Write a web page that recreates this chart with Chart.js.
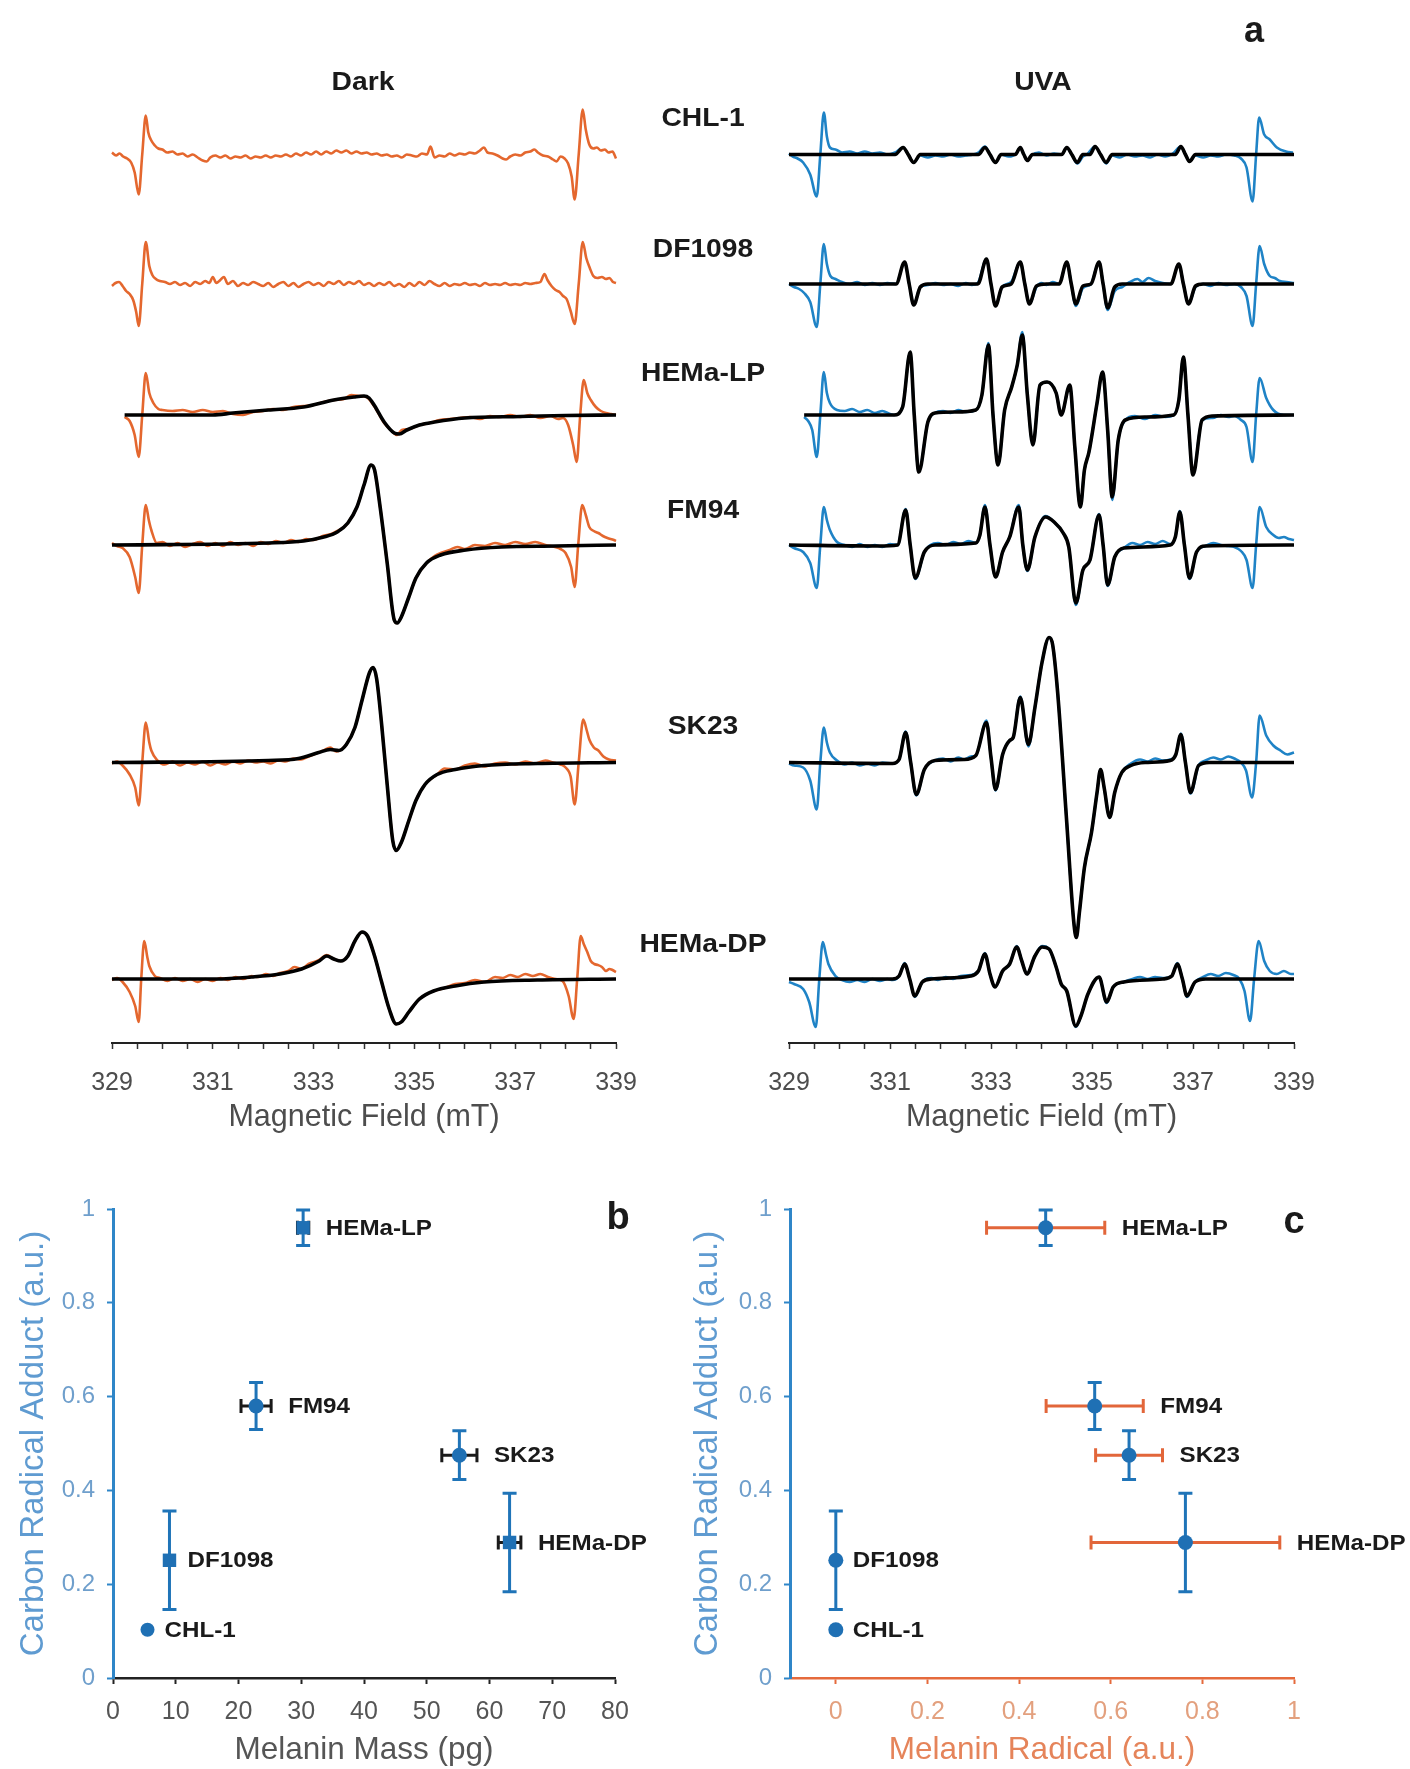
<!DOCTYPE html>
<html>
<head>
<meta charset="utf-8">
<script src="https://cdn.jsdelivr.net/npm/chart.js@4.4.1/dist/chart.umd.min.js"></script>
<style>
  body { margin: 0; background: #fff; width: 1410px; height: 1769px; position: relative; overflow: hidden;
         font-family: 'Liberation Sans', Arial, sans-serif; }
  canvas { position: absolute; }
  .txt { position: absolute; font-weight: bold; color: #1a1a1a; white-space: nowrap; z-index: 5;
         transform: translate(-50%, -50%) scaleX(1.13); }
</style>
</head>
<body>
<canvas id="dark" width="700" height="1150" style="left:0;top:0"></canvas>
<canvas id="uva" width="710" height="1150" style="left:700px;top:0"></canvas>
<canvas id="mass" width="700" height="619" style="left:0;top:1150px"></canvas>
<canvas id="radical" width="770" height="619" style="left:640px;top:1150px"></canvas>
<div id="labels"></div>
<script>
// ---- data -------------------------------------------------------------
const cellLines = ['CHL-1', 'DF1098', 'HEMa-LP', 'FM94', 'SK23', 'HEMa-DP'];

// panel a: field ticks (mT)
const fieldTicks = [329, 329.5, 330, 330.5, 331, 331.5, 332, 332.5, 333, 333.5, 334, 334.5,
                    335, 335.5, 336, 336.5, 337, 337.5, 338, 338.5, 339];
const fieldLabels = [329, 331, 333, 335, 337, 339];

// spectra, [field mT, signal a.u.]
const darkChl1 = [[329.0,2],[329.08,-1],[329.15,1],[329.22,-2],[329.3,-4],[329.38,-8],[329.45,-18],[329.53,-40],[329.6,0],[329.67,39],[329.72,22],[329.78,14],[329.85,9],[329.92,6],[330.0,5],[330.1,2],[330.2,3],[330.3,0],[330.4,1],[330.5,-2],[330.6,0],[330.7,-3],[330.8,-6],[330.88,-7],[330.95,-3],[331.05,-1],[331.15,-3],[331.25,-1],[331.35,-4],[331.45,-2],[331.55,-3],[331.65,-1],[331.75,-4],[331.85,-2],[331.95,-3],[332.05,-1],[332.15,-3],[332.25,-1],[332.35,-2],[332.45,0],[332.55,-2],[332.65,1],[332.75,-1],[332.85,2],[332.95,0],[333.05,3],[333.15,0],[333.25,3],[333.35,1],[333.45,4],[333.55,2],[333.65,4],[333.75,1],[333.85,3],[333.95,1],[334.05,2],[334.15,0],[334.25,1],[334.35,-1],[334.45,0],[334.55,-2],[334.65,-1],[334.75,-3],[334.85,0],[334.95,-1],[335.05,-2],[335.15,1],[335.25,0],[335.32,8],[335.4,-3],[335.5,-1],[335.6,-2],[335.7,1],[335.8,-1],[335.9,1],[336.0,0],[336.1,2],[336.2,1],[336.3,4],[336.38,7],[336.45,2],[336.55,1],[336.65,-1],[336.75,-4],[336.82,-5],[336.9,-2],[337.0,0],[337.1,-1],[337.2,2],[337.3,3],[337.38,5],[337.45,2],[337.55,-1],[337.65,-2],[337.75,-5],[337.82,-7],[337.9,-2],[337.98,-4],[338.05,-9],[338.12,-22],[338.18,-45],[338.26,0],[338.34,45],[338.4,25],[338.47,10],[338.55,6],[338.62,7],[338.7,4],[338.78,5],[338.85,2],[338.93,3],[339.0,-4]];
const darkDf1098 = [[329.0,-2],[329.07,1],[329.14,2],[329.21,-2],[329.28,-7],[329.35,-10],[329.42,-16],[329.48,-28],[329.53,-42],[329.6,0],[329.67,42],[329.74,18],[329.8,9],[329.87,5],[329.95,3],[330.05,2],[330.15,0],[330.25,2],[330.35,-1],[330.45,1],[330.55,-2],[330.65,2],[330.75,0],[330.85,3],[330.93,1],[331.0,7],[331.07,1],[331.15,4],[331.22,7],[331.3,0],[331.4,3],[331.5,-2],[331.6,1],[331.7,-1],[331.8,2],[331.9,0],[332.0,-2],[332.1,1],[332.2,-3],[332.3,0],[332.4,2],[332.5,-2],[332.6,1],[332.7,-3],[332.8,0],[332.9,2],[333.0,-1],[333.1,1],[333.2,-2],[333.3,2],[333.4,0],[333.5,3],[333.6,-1],[333.7,2],[333.8,0],[333.9,3],[334.0,-1],[334.1,1],[334.2,-2],[334.3,1],[334.4,-1],[334.5,2],[334.6,-2],[334.7,0],[334.8,-3],[334.9,1],[335.0,-2],[335.1,2],[335.2,-1],[335.3,3],[335.4,0],[335.5,-2],[335.6,1],[335.7,-2],[335.8,0],[335.9,-1],[336.0,1],[336.1,-1],[336.2,0],[336.3,-2],[336.4,1],[336.5,-1],[336.6,0],[336.7,-1],[336.8,1],[336.9,-1],[337.0,0],[337.1,-1],[337.2,1],[337.3,0],[337.4,1],[337.5,2],[337.58,10],[337.64,4],[337.72,-2],[337.8,-6],[337.88,-8],[337.95,-12],[338.02,-15],[338.1,-27],[338.18,-40],[338.26,0],[338.34,42],[338.41,26],[338.48,16],[338.55,8],[338.63,6],[338.72,7],[338.8,5],[338.87,6],[338.94,2],[339.0,1]];
const darkHemaLp = [[329.25,-2],[329.35,-6],[329.45,-20],[329.53,-42],[329.6,0],[329.67,42],[329.74,22],[329.82,12],[329.92,6],[330.0,5],[330.2,4],[330.4,5],[330.6,3],[330.8,5],[331.0,3],[331.2,4],[331.4,1],[331.6,0],[331.8,3],[332.0,4],[332.2,6],[332.4,5],[332.6,8],[332.8,9],[333.0,10],[333.2,13],[333.4,15],[333.6,16],[333.75,20],[333.9,19],[334.05,18],[334.2,9],[334.4,-8],[334.55,-16],[334.65,-20],[334.75,-15],[334.9,-14],[335.1,-10],[335.3,-8],[335.5,-5],[335.7,-4],[335.9,-3],[336.1,-2],[336.3,-4],[336.5,-1],[336.7,-2],[336.9,0],[337.1,-2],[337.3,0],[337.5,-3],[337.7,-1],[337.85,-4],[337.95,-3],[338.05,-10],[338.15,-30],[338.22,-47],[338.29,0],[338.36,35],[338.43,22],[338.5,15],[338.6,8],[338.7,4],[338.8,2],[338.9,1],[339.0,0]];
const darkHemaLpFit = [[329.25,0],[331.0,0],[331.4,2],[332.1,5],[332.8,8],[333.4,15],[333.8,18],[334.0,19],[334.1,17],[334.2,10],[334.4,-7],[334.6,-18],[334.7,-19],[334.85,-15],[335.1,-10],[335.4,-7],[336.0,-3],[337.1,-1.5],[338.0,-0.5],[339.0,0]];
const darkFm94 = [[329.0,2],[329.1,-1],[329.21,-3],[329.35,-12],[329.46,-32],[329.53,-48],[329.6,0],[329.67,40],[329.73,25],[329.78,15],[329.89,2],[330.0,3],[330.15,-1],[330.3,2],[330.45,-2],[330.6,1],[330.75,3],[330.9,-1],[331.05,2],[331.2,-1],[331.35,3],[331.5,0],[331.65,2],[331.8,-1],[331.95,3],[332.1,1],[332.25,4],[332.4,2],[332.55,5],[332.7,3],[332.85,6],[333.0,5],[333.18,9],[333.35,11],[333.47,14],[333.6,18],[333.68,22],[333.86,38],[334.0,60],[334.14,80],[334.21,75],[334.32,38],[334.46,-18],[334.6,-75],[334.66,-78],[334.74,-72],[334.89,-52],[335.03,-33],[335.24,-18],[335.4,-11],[335.52,-8],[335.7,-5],[335.85,-2],[336.0,-4],[336.2,0],[336.4,-1],[336.6,2],[336.8,0],[337.0,3],[337.2,1],[337.4,3],[337.6,0],[337.79,-2],[337.9,-4],[338.0,-8],[338.11,-22],[338.18,-42],[338.25,0],[338.33,40],[338.4,30],[338.47,18],[338.56,14],[338.65,12],[338.74,9],[338.83,7],[338.96,5],[339.0,4]];
const darkFm94Fit = [[329.0,0],[332.1,2],[332.8,4],[333.2,8],[333.47,13],[333.68,22],[333.86,38],[334.0,60],[334.14,80],[334.21,75],[334.32,38],[334.46,-18],[334.6,-75],[334.66,-78],[334.74,-72],[334.89,-52],[335.03,-33],[335.24,-18],[335.52,-10],[336.02,-5],[336.73,-2],[337.8,-1],[339.0,0]];
const darkSk23 = [[329.0,-1],[329.1,1],[329.21,-3],[329.35,-12],[329.46,-25],[329.53,-43],[329.6,0],[329.67,40],[329.74,20],[329.78,12],[329.9,2],[330.05,-2],[330.2,1],[330.35,-3],[330.5,0],[330.65,-2],[330.8,1],[330.95,-3],[331.1,0],[331.25,-2],[331.4,1],[331.55,-1],[331.7,2],[331.85,0],[332.0,1],[332.15,-1],[332.3,2],[332.45,1],[332.6,4],[332.75,3],[332.9,6],[333.05,9],[333.2,12],[333.33,15],[333.45,11],[333.55,13],[333.65,18],[333.82,35],[333.96,62],[334.11,90],[334.18,95],[334.25,84],[334.35,38],[334.46,-22],[334.57,-78],[334.64,-88],[334.74,-80],[334.89,-58],[335.03,-38],[335.21,-22],[335.45,-12],[335.6,-6],[335.81,-7],[336.0,-3],[336.2,-1],[336.4,-4],[336.6,-1],[336.8,0],[337.0,-2],[337.2,1],[337.4,-1],[337.6,2],[337.75,0],[337.9,-2],[338.0,-5],[338.1,-14],[338.18,-42],[338.26,0],[338.35,43],[338.42,32],[338.47,23],[338.56,15],[338.65,12],[338.75,6],[338.86,3],[339.0,2]];
const darkSk23Fit = [[329.0,0],[332.1,2],[332.7,4],[333.1,10],[333.33,13],[333.5,12],[333.65,18],[333.82,35],[333.96,62],[334.11,90],[334.18,95],[334.25,84],[334.35,38],[334.46,-22],[334.57,-78],[334.64,-88],[334.74,-80],[334.89,-58],[335.03,-38],[335.21,-22],[335.45,-12],[335.81,-7],[336.38,-3],[337.44,-1],[339.0,0]];
const darkHemaDp = [[329.0,-1],[329.1,1],[329.21,-3],[329.35,-13],[329.46,-27],[329.53,-43],[329.58,0],[329.64,38],[329.7,22],[329.74,13],[329.85,3],[329.95,1],[330.1,-2],[330.25,1],[330.4,-2],[330.55,0],[330.7,-3],[330.85,0],[331.0,-2],[331.15,1],[331.3,-1],[331.45,2],[331.6,0],[331.77,3],[331.9,2],[332.05,5],[332.2,3],[332.33,6],[332.5,8],[332.62,12],[332.76,10],[332.9,15],[333.11,19],[333.26,24],[333.4,20],[333.54,18],[333.68,23],[333.82,38],[333.96,47],[334.07,43],[334.21,23],[334.35,-3],[334.5,-30],[334.64,-45],[334.74,-43],[334.89,-33],[335.1,-20],[335.38,-12],[335.6,-9],[335.81,-5],[336.0,-4],[336.2,-1],[336.4,-3],[336.6,2],[336.75,1],[336.9,4],[337.05,2],[337.2,5],[337.35,3],[337.5,5],[337.65,2],[337.8,0],[337.94,-2],[338.06,-17],[338.16,-40],[338.23,0],[338.3,43],[338.36,35],[338.43,27],[338.5,18],[338.57,15],[338.64,14],[338.72,12],[338.8,8],[338.87,10],[338.93,9],[339.0,7]];
const darkHemaDpFit = [[329.0,0],[331.06,0],[331.77,2],[332.33,5],[332.76,10],[333.11,18],[333.26,23],[333.4,20],[333.54,18],[333.68,23],[333.82,38],[333.96,47],[334.07,43],[334.21,23],[334.35,-3],[334.5,-30],[334.64,-45],[334.74,-43],[334.89,-33],[335.1,-20],[335.38,-12],[335.81,-7],[336.38,-3],[337.44,-1],[339.0,0]];

const uvaChl1 = [[329.0,1],[329.07,-2],[329.17,-4],[329.28,-8],[329.42,-20],[329.55,-42],[329.62,0],[329.69,42],[329.75,18],[329.81,7],[329.92,5],[330.05,2],[330.2,3],[330.35,1],[330.5,3],[330.65,1],[330.8,2],[330.95,0],[331.1,2],[331.26,7],[331.36,0],[331.47,-8],[331.6,-1],[331.75,-3],[331.9,-1],[332.05,-2],[332.2,0],[332.35,-2],[332.5,-1],[332.65,0],[332.75,2],[332.88,8],[332.98,0],[333.09,-8],[333.2,0],[333.35,-2],[333.5,1],[333.58,7],[333.65,0],[333.72,-6],[333.8,-1],[333.95,2],[334.1,-1],[334.25,1],[334.4,0],[334.5,7],[334.6,0],[334.71,-9],[334.82,-2],[334.9,0],[335.06,8],[335.17,0],[335.28,-9],[335.4,-1],[335.55,-3],[335.7,0],[335.85,-2],[336.0,-1],[336.15,-3],[336.3,0],[336.45,-2],[336.6,1],[336.76,8],[336.85,0],[336.93,-7],[337.05,-1],[337.2,-3],[337.35,-1],[337.5,-2],[337.65,0],[337.82,-1],[337.95,-4],[338.06,-13],[338.18,-47],[338.25,0],[338.31,37],[338.41,20],[338.52,15],[338.66,7],[338.84,3],[338.98,2]];
const uvaChl1Fit = [[329.0,0],[331.1,0],[331.26,7],[331.36,0],[331.47,-8],[331.6,0],[332.75,0],[332.88,7],[332.98,0],[333.09,-8],[333.2,0],[333.48,0],[333.58,7],[333.65,0],[333.72,-6],[333.82,0],[334.4,0],[334.5,7],[334.6,0],[334.71,-8],[334.82,0],[334.96,0],[335.06,8],[335.17,0],[335.28,-8],[335.4,0],[336.65,0],[336.76,8],[336.85,0],[336.93,-7],[337.05,0],[339.0,0]];
const uvaDf1098 = [[329.0,0],[329.1,-3],[329.2,-5],[329.3,-9],[329.42,-18],[329.55,-43],[329.62,0],[329.69,40],[329.75,20],[329.82,8],[329.92,5],[330.05,2],[330.2,0],[330.35,2],[330.5,-1],[330.65,1],[330.8,-1],[330.95,1],[331.12,0],[331.29,22],[331.38,0],[331.47,-21],[331.6,-3],[331.75,-1],[331.9,1],[332.05,-1],[332.2,0],[332.35,-2],[332.5,1],[332.62,-1],[332.74,1],[332.91,25],[333.0,0],[333.09,-22],[333.22,-3],[333.4,2],[333.58,22],[333.67,0],[333.76,-20],[333.9,-3],[334.0,1],[334.1,-1],[334.22,2],[334.35,0],[334.5,22],[334.59,0],[334.68,-22],[334.82,-4],[334.98,0],[335.14,22],[335.22,0],[335.31,-26],[335.45,-7],[335.6,-3],[335.75,2],[335.9,5],[336.0,2],[336.12,6],[336.25,3],[336.4,1],[336.56,0],[336.72,20],[336.81,0],[336.91,-20],[337.05,-3],[337.2,0],[337.35,-2],[337.5,1],[337.65,-1],[337.82,0],[337.95,-3],[338.06,-12],[338.18,-42],[338.25,0],[338.32,38],[338.41,20],[338.52,8],[338.62,6],[338.72,3],[338.85,2],[339.0,1]];
const uvaDf1098Fit = [[329.0,0],[331.12,0],[331.29,22],[331.38,0],[331.47,-21],[331.6,-3],[331.75,0],[332.74,0],[332.91,25],[333.0,0],[333.09,-22],[333.22,-3],[333.4,0],[333.58,22],[333.67,0],[333.76,-20],[333.9,-2],[334.1,0],[334.35,0],[334.5,22],[334.59,0],[334.68,-20],[334.82,-2],[334.98,0],[335.14,22],[335.22,0],[335.31,-24],[335.45,-3],[335.6,0],[336.56,0],[336.72,20],[336.81,0],[336.91,-20],[337.05,-2],[337.2,0],[339.0,0]];
const uvaHemaLp = [[329.3,-2],[329.38,-6],[329.46,-15],[329.55,-42],[329.62,0],[329.69,43],[329.75,22],[329.81,12],[329.95,5],[330.1,4],[330.25,6],[330.4,3],[330.55,5],[330.7,2],[330.85,4],[331.0,1],[331.08,0],[331.25,8],[331.4,63],[331.48,0],[331.57,-57],[331.75,-7],[331.89,2],[332.05,4],[332.2,2],[332.35,5],[332.5,3],[332.7,5],[332.82,20],[332.95,72],[333.04,0],[333.14,-50],[333.27,5],[333.41,28],[333.52,50],[333.62,83],[333.72,20],[333.83,-30],[333.97,30],[334.11,33],[334.29,22],[334.39,0],[334.56,30],[334.66,-32],[334.77,-92],[334.85,-55],[334.94,-37],[335.1,12],[335.21,43],[335.31,-15],[335.4,-85],[335.52,-25],[335.66,-5],[335.85,-1],[336.05,-4],[336.25,0],[336.45,-2],[336.62,0],[336.72,15],[336.81,58],[336.9,0],[337.0,-60],[337.18,-5],[337.39,-3],[337.55,0],[337.7,-2],[337.82,-1],[337.95,-5],[338.06,-12],[338.18,-47],[338.25,0],[338.32,37],[338.45,17],[338.59,5],[338.8,0],[339.0,0]];
const uvaHemaLpFit = [[329.3,0],[331.08,0],[331.25,8],[331.4,63],[331.48,0],[331.57,-57],[331.75,-7],[331.89,2],[332.3,3],[332.7,5],[332.82,20],[332.95,70],[333.04,0],[333.14,-50],[333.27,5],[333.41,28],[333.52,50],[333.62,80],[333.72,20],[333.83,-30],[333.97,30],[334.11,33],[334.29,22],[334.39,0],[334.56,30],[334.66,-32],[334.77,-92],[334.85,-55],[334.94,-37],[335.1,12],[335.21,43],[335.31,-15],[335.4,-82],[335.52,-25],[335.66,-5],[336.05,-2],[336.62,0],[336.72,15],[336.81,58],[336.9,0],[337.0,-60],[337.18,-5],[337.39,-1],[339.0,0]];
const uvaFm94 = [[329.0,0],[329.1,-3],[329.28,-7],[329.42,-18],[329.55,-43],[329.62,0],[329.69,38],[329.75,25],[329.81,15],[329.95,3],[330.1,0],[330.25,-2],[330.4,1],[330.55,-2],[330.7,0],[330.85,-2],[331.0,1],[331.15,0],[331.31,36],[331.4,0],[331.5,-34],[331.68,-7],[331.8,0],[331.95,2],[332.1,0],[332.25,3],[332.4,1],[332.55,4],[332.7,2],[332.78,10],[332.88,40],[332.98,0],[333.09,-32],[333.23,-7],[333.37,8],[333.55,40],[333.63,0],[333.72,-26],[333.87,8],[334.08,29],[334.25,23],[334.43,12],[334.54,-2],[334.68,-60],[334.82,-25],[334.96,-15],[335.14,31],[335.22,0],[335.31,-41],[335.45,-12],[335.63,-3],[335.8,2],[335.95,0],[336.1,3],[336.25,1],[336.4,4],[336.55,1],[336.65,8],[336.74,34],[336.83,0],[336.93,-34],[337.07,-7],[337.25,-1],[337.4,2],[337.55,0],[337.7,-1],[337.82,-2],[337.95,-6],[338.06,-15],[338.18,-43],[338.25,0],[338.32,38],[338.45,18],[338.59,10],[338.7,7],[338.8,8],[338.9,6],[339.0,5]];
const uvaFm94Fit = [[329.0,0],[330.76,-1],[331.15,0],[331.31,35],[331.4,0],[331.5,-33],[331.68,-7],[331.89,0],[332.7,2],[332.78,10],[332.88,38],[332.98,0],[333.09,-32],[333.23,-7],[333.37,8],[333.55,38],[333.63,0],[333.72,-25],[333.87,8],[334.08,28],[334.25,23],[334.43,12],[334.54,-2],[334.68,-58],[334.82,-25],[334.96,-15],[335.14,30],[335.22,0],[335.31,-40],[335.45,-12],[335.63,-3],[336.55,0],[336.65,8],[336.74,33],[336.83,0],[336.93,-33],[337.07,-7],[337.25,-1],[339.0,0]];
const uvaSk23 = [[329.0,-1],[329.1,-3],[329.28,-5],[329.42,-18],[329.55,-47],[329.62,0],[329.69,35],[329.75,20],[329.81,10],[329.95,2],[330.1,-2],[330.25,0],[330.4,-3],[330.55,-1],[330.7,-3],[330.85,0],[331.05,-1],[331.18,3],[331.31,31],[331.41,0],[331.52,-33],[331.68,-7],[331.89,2],[332.05,4],[332.2,1],[332.35,5],[332.46,3],[332.6,6],[332.7,7],[332.91,42],[333.0,5],[333.09,-28],[333.23,8],[333.37,22],[333.44,25],[333.58,66],[333.74,16],[333.87,55],[334.01,100],[334.15,125],[334.22,118],[334.32,70],[334.5,-60],[334.64,-160],[334.69,-175],[334.75,-150],[334.85,-105],[334.99,-70],[335.1,-30],[335.17,-7],[335.24,-25],[335.35,-55],[335.45,-30],[335.59,-10],[335.77,-1],[335.95,3],[336.1,1],[336.25,4],[336.4,2],[336.55,3],[336.66,8],[336.76,29],[336.85,0],[336.95,-31],[337.11,-3],[337.25,2],[337.4,5],[337.55,3],[337.7,6],[337.82,4],[337.95,0],[338.05,-8],[338.17,-35],[338.25,0],[338.32,47],[338.45,27],[338.59,17],[338.73,12],[338.87,8],[339.0,10]];
const uvaSk23Fit = [[329.0,0],[331.05,-1],[331.18,3],[331.31,30],[331.41,0],[331.52,-32],[331.68,-7],[331.89,2],[332.46,3],[332.7,7],[332.91,40],[333.0,5],[333.09,-27],[333.23,8],[333.37,22],[333.44,25],[333.58,65],[333.74,18],[333.87,55],[334.01,100],[334.15,125],[334.22,118],[334.32,70],[334.5,-60],[334.64,-160],[334.69,-175],[334.75,-150],[334.85,-105],[334.99,-70],[335.1,-30],[335.17,-7],[335.24,-25],[335.35,-55],[335.45,-30],[335.59,-10],[335.77,-3],[336.05,0],[336.55,2],[336.66,8],[336.76,28],[336.85,0],[336.95,-30],[337.11,-3],[337.32,0],[339.0,0]];
const uvaHemaDp = [[329.0,-3],[329.1,-5],[329.28,-10],[329.4,-23],[329.53,-48],[329.6,0],[329.67,37],[329.73,25],[329.78,15],[329.92,3],[330.05,-1],[330.2,-3],[330.35,-1],[330.5,-3],[330.65,0],[330.8,-2],[330.95,0],[331.05,-1],[331.18,3],[331.29,16],[331.39,0],[331.49,-18],[331.64,-3],[331.82,1],[331.95,-1],[332.1,2],[332.25,0],[332.4,3],[332.6,4],[332.75,8],[332.88,26],[332.98,5],[333.08,-8],[333.23,8],[333.37,15],[333.51,33],[333.61,18],[333.71,5],[333.87,23],[334.01,33],[334.15,30],[334.29,12],[334.39,-5],[334.5,-12],[334.68,-48],[334.78,-37],[334.92,-15],[335.14,2],[335.29,-24],[335.42,-8],[335.63,-3],[335.8,0],[335.95,2],[336.1,0],[336.25,2],[336.4,1],[336.58,3],[336.69,16],[336.79,0],[336.88,-18],[337.04,-3],[337.2,2],[337.35,5],[337.5,3],[337.65,6],[337.8,4],[337.92,0],[338.02,-12],[338.13,-42],[338.21,0],[338.3,38],[338.41,18],[338.52,8],[338.66,5],[338.8,8],[338.94,5],[339.0,5]];
const uvaHemaDpFit = [[329.0,0],[331.05,0],[331.18,3],[331.29,15],[331.39,0],[331.49,-17],[331.64,-3],[331.82,0],[332.6,3],[332.75,8],[332.88,25],[332.98,5],[333.08,-8],[333.23,8],[333.37,15],[333.51,32],[333.61,18],[333.71,5],[333.87,23],[334.01,32],[334.15,30],[334.29,12],[334.39,-5],[334.5,-12],[334.68,-47],[334.78,-37],[334.92,-15],[335.14,2],[335.29,-23],[335.42,-8],[335.63,-3],[336.4,0],[336.58,3],[336.69,15],[336.79,0],[336.88,-17],[337.04,-3],[337.25,0],[339.0,0]];

// panels b and c
const melaninMass       = [5.5, 9.0, 30.3, 22.8, 55.2, 63.2];
const melaninMassErr    = [0, 0, 0.9, 2.4, 2.8, 1.8];
const melaninRadical    = [0, 0, 0.458, 0.565, 0.64, 0.763];
const melaninRadicalErr = [0, 0, 0.129, 0.106, 0.073, 0.206];
const carbonAdduct      = [0.103, 0.251, 0.96, 0.58, 0.475, 0.289];
const carbonAdductErr   = [0, 0.105, 0.038, 0.05, 0.052, 0.105];
const massTicks    = [0, 10, 20, 30, 40, 50, 60, 70, 80];
const radicalTicks = [0, 0.2, 0.4, 0.6, 0.8, 1];
const adductTicks  = [0, 0.2, 0.4, 0.6, 0.8, 1];

// ---- layout / style ---------------------------------------------------
const FONT = "'Liberation Sans', Arial, sans-serif";
Chart.defaults.font.family = FONT;
const ORANGE = '#e4672e', BLUE = '#1f83c6', MARKER = '#1f70b4';
const AXIS_Y = 1043, AREA_TOP = 90;               // panel a plot area (page px)
const rowBaseY = [154.5, 284, 415, 545, 762.5, 979];   // stacked trace baselines

function placeRow(arr, row) {
  const off = AXIS_Y - rowBaseY[row];
  return arr.map(p => ({x: p[0], y: p[1] + off}));
}

function spectrumPanel(id, traces, fits, color, padLeft, padRight) {
  const datasets = [];
  traces.forEach((tr, i) => {
    if (fits[i]) datasets.push({data: placeRow(fits[i], i), borderColor: '#000', borderWidth: 3.6, order: 0});
    datasets.push({data: placeRow(tr, i), borderColor: color, borderWidth: 2.6, order: 1});
  });
  return new Chart(document.getElementById(id), {
    type: 'line',
    data: {datasets},
    options: {
      responsive: false, animation: false, events: [],
      layout: {padding: {left: padLeft, right: padRight, top: AREA_TOP, bottom: 0}},
      elements: {point: {radius: 0}, line: {cubicInterpolationMode: 'monotone', borderJoinStyle: 'round', fill: false}},
      datasets: {line: {clip: false}},
      plugins: {legend: {display: false}, tooltip: {enabled: false}},
      scales: {
        x: {
          type: 'linear', min: 329, max: 339,
          afterBuildTicks: s => { s.ticks = fieldTicks.map(v => ({value: v})); },
          afterFit: s => { s.height = 1150 - AXIS_Y; },
          ticks: {autoSkip: false, maxRotation: 0, padding: 19, color: '#4d4d4d', font: {size: 25},
                  callback: v => fieldLabels.includes(v) ? String(v) : ''},
          grid: {drawOnChartArea: false, tickLength: 6, tickColor: '#333', tickWidth: 1.5},
          border: {color: '#222', width: 2},
          title: {display: true, text: 'Magnetic Field (mT)', color: '#4d4d4d', font: {size: 30.5},
                  padding: {top: 0, bottom: 14}}
        },
        y: {type: 'linear', display: false, min: 0, max: AXIS_Y - AREA_TOP}
      }
    }
  });
}

spectrumPanel('dark',
  [darkChl1, darkDf1098, darkHemaLp, darkFm94, darkSk23, darkHemaDp],
  [null, null, darkHemaLpFit, darkFm94Fit, darkSk23Fit, darkHemaDpFit],
  ORANGE, 112, 700 - 616);
spectrumPanel('uva',
  [uvaChl1, uvaDf1098, uvaHemaLp, uvaFm94, uvaSk23, uvaHemaDp],
  [uvaChl1Fit, uvaDf1098Fit, uvaHemaLpFit, uvaFm94Fit, uvaSk23Fit, uvaHemaDpFit],
  BLUE, 789 - 700, 710 - (1294 - 700));

// error bars and point labels for panels b, c
function overlay(xs, xErr, xErrColor, markerHalf) {
  return {
    id: 'overlay',
    beforeDatasetsDraw(chart) {
      const {ctx, scales: {x, y}} = chart;
      ctx.save();
      ctx.lineCap = 'butt';
      xs.forEach((xv, i) => {
        const px = x.getPixelForValue(xv), py = y.getPixelForValue(carbonAdduct[i]);
        const cap = 7;
        if (xErr[i] > 0) {
          const x1 = x.getPixelForValue(xv - xErr[i]), x2 = x.getPixelForValue(xv + xErr[i]);
          ctx.strokeStyle = xErrColor; ctx.lineWidth = 3;
          ctx.beginPath();
          ctx.moveTo(x1, py); ctx.lineTo(x2, py);
          ctx.moveTo(x1, py - cap); ctx.lineTo(x1, py + cap);
          ctx.moveTo(x2, py - cap); ctx.lineTo(x2, py + cap);
          ctx.stroke();
        }
        if (carbonAdductErr[i] > 0) {
          const y1 = y.getPixelForValue(carbonAdduct[i] + carbonAdductErr[i]);
          const y2 = y.getPixelForValue(carbonAdduct[i] - carbonAdductErr[i]);
          ctx.strokeStyle = '#1f74b8'; ctx.lineWidth = 3;
          ctx.beginPath();
          ctx.moveTo(px, y1); ctx.lineTo(px, y2);
          ctx.moveTo(px - cap, y1); ctx.lineTo(px + cap, y1);
          ctx.moveTo(px - cap, y2); ctx.lineTo(px + cap, y2);
          ctx.stroke();
        }
      });
      ctx.restore();
    },
    afterDatasetsDraw(chart) {
      const {ctx, scales: {x, y}} = chart;
      ctx.save();
      ctx.font = 'bold 22px ' + FONT;
      ctx.fillStyle = '#1a1a1a';
      ctx.textBaseline = 'middle';
      xs.forEach((xv, i) => {
        const px = x.getPixelForValue(xv), py = y.getPixelForValue(carbonAdduct[i]);
        const lx = Math.max(px + markerHalf[i] + 8, x.getPixelForValue(xv + xErr[i]) + 17);
        ctx.save();
        ctx.translate(lx, py + 1);
        ctx.scale(1.1, 1);
        ctx.fillText(cellLines[i], 0, 0);
        ctx.restore();
      });
      ctx.restore();
    }
  };
}

function scatterPanel(id, xs, xErr, cfg) {
  return new Chart(document.getElementById(id), {
    type: 'scatter',
    data: {datasets: [{
      data: xs.map((v, i) => ({x: v, y: carbonAdduct[i]})),
      pointStyle: cfg.pointStyle, pointRadius: cfg.pointRadius,
      backgroundColor: MARKER, borderColor: MARKER, borderWidth: 0
    }]},
    options: {
      responsive: false, animation: false, events: [],
      layout: {padding: {left: 0, right: cfg.padRight, top: 59, bottom: 0}},
      plugins: {legend: {display: false}, tooltip: {enabled: false}},
      scales: {
        x: {
          type: 'linear', min: cfg.xMin, max: cfg.xMax,
          afterBuildTicks: s => { s.ticks = cfg.xTicks.map(v => ({value: v})); },
          afterFit: s => { s.height = 91; },
          ticks: {autoSkip: false, maxRotation: 0, padding: 13, color: cfg.xTickColor, font: {size: 25},
                  callback: v => String(v)},
          grid: {drawOnChartArea: false, tickLength: 6, tickColor: cfg.xAxisColor, tickWidth: 2},
          border: {color: cfg.xAxisColor, width: 2.5},
          title: {display: true, text: cfg.xTitle, color: cfg.xTitleColor, font: {size: 31.5},
                  padding: {top: 0, bottom: 0}}
        },
        y: {
          type: 'linear', min: 0, max: 1,
          afterBuildTicks: s => { s.ticks = adductTicks.map(v => ({value: v})); },
          afterFit: s => { s.width = cfg.yWidth; },
          ticks: {autoSkip: false, padding: 12, color: '#6f9fcc', font: {size: 24}, callback: v => String(v)},
          grid: {drawOnChartArea: false, tickLength: 6, tickColor: '#2f86c8', tickWidth: 2},
          border: {color: '#2f86c8', width: 3},
          title: {display: true, text: 'Carbon Radical Adduct (a.u.)', color: '#5f9bd1', font: {size: 33},
                  padding: {top: cfg.yTitlePad, bottom: 0}}
        }
      }
    },
    plugins: [overlay(xs, xErr, cfg.xErrColor, cfg.markerHalf)]
  });
}

scatterPanel('mass', melaninMass, melaninMassErr, {
  xMin: 0, xMax: 80, xTicks: massTicks, xTitle: 'Melanin Mass (pg)',
  xAxisColor: '#222', xTickColor: '#555', xTitleColor: '#555', xErrColor: '#1a1a1a',
  pointStyle: ['circle', 'rect', 'rect', 'circle', 'circle', 'rect'],
  pointRadius: [7, 9.5, 9.5, 7.5, 7.5, 9.5],
  markerHalf: [7, 10, 10, 8, 8, 10],
  yWidth: 113, yTitlePad: 14, padRight: 700 - 615
});
scatterPanel('radical', melaninRadical, melaninRadicalErr, {
  xMin: -0.1, xMax: 1, xTicks: radicalTicks, xTitle: 'Melanin Radical (a.u.)',
  xAxisColor: '#e56a3c', xTickColor: '#e3a07e', xTitleColor: '#e5845a', xErrColor: '#e2663a',
  pointStyle: 'circle', pointRadius: 7.5,
  markerHalf: [8, 8, 8, 8, 8, 8],
  yWidth: 150, yTitlePad: 48, padRight: 1410 - 1294
});

// ---- text: titles, row names, panel letters ----------------------------
const rowLabelY = [117, 248, 372, 509, 725, 943];
const texts = [
  {t: 'Dark', x: 363, y: 81, s: 25}, {t: 'UVA', x: 1043, y: 81, s: 25},
  {t: 'a', x: 1254, y: 30, s: 36, k: 1}, {t: 'b', x: 618, y: 1216, s: 38, k: 1}, {t: 'c', x: 1294, y: 1220, s: 38, k: 1}
].concat(cellLines.map((n, i) => ({t: n, x: 703, y: rowLabelY[i], s: 25})));
const holder = document.getElementById('labels');
texts.forEach(d => {
  const el = document.createElement('div');
  el.className = 'txt';
  el.textContent = d.t;
  el.style.left = d.x + 'px';
  el.style.top = d.y + 'px';
  el.style.fontSize = d.s + 'px';
  if (d.k) el.style.transform = 'translate(-50%, -50%)';
  holder.appendChild(el);
});
</script>
</body>
</html>
